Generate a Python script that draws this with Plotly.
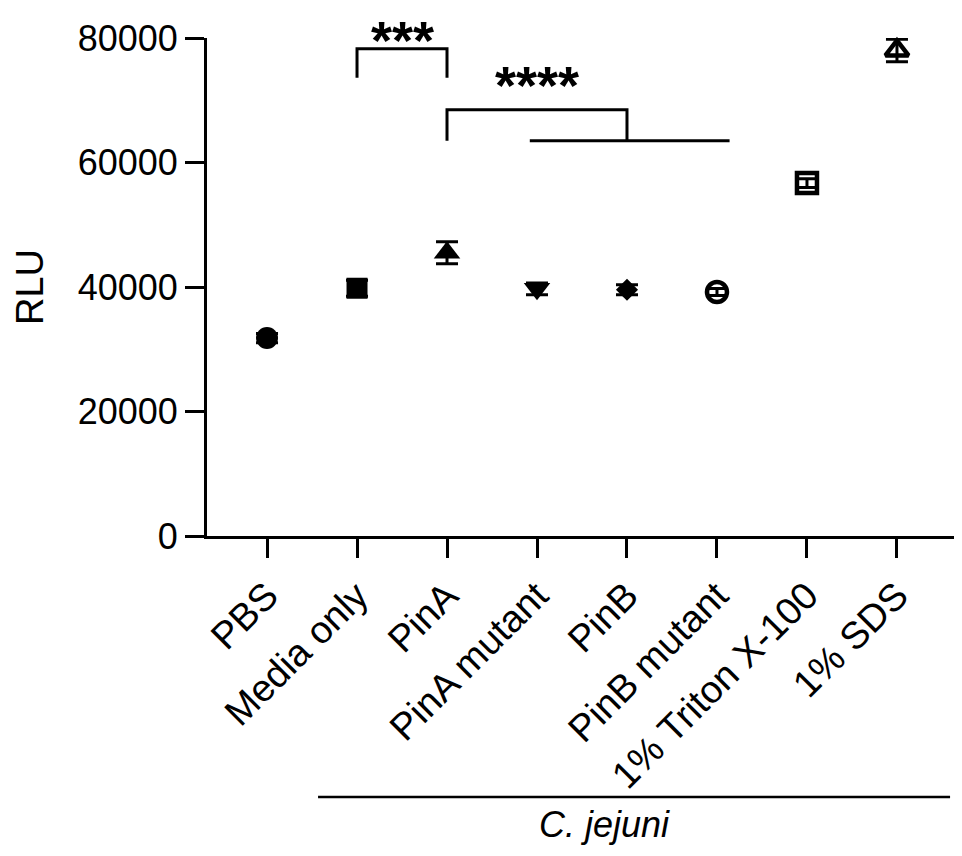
import plotly.graph_objects as go

categories = ["PBS", "Media only", "PinA", "PinA mutant", "PinB",
              "PinB mutant", "1% Triton X-100", "1% SDS"]
means = [31800, 39800, 45500, 39700, 39550, 39200, 56700, 78000]
sds = [750, 1300, 1750, 950, 800, 550, 700, 1800]
symbols = ["circle", "square", "triangle-up", "triangle-down", "diamond",
           "circle-open", "square-open", "triangle-up-open"]

y_ticks = [0, 20000, 40000, 60000, 80000]

# significance brackets (category index, RLU)
bracket1_x = [1, 1, 2, 2]
bracket1_y = [73600, 78280, 78280, 73600]
bracket2_x = [2, 2, 4, 4]
bracket2_y = [63500, 68480, 68480, 63500]
bracket2_base_x = [2.92, 5.14]
bracket2_base_y = [63500, 63500]
stars = ["***", "****"]
stars_x = [1.5, 3.0]

FONT = "Liberation Sans, Arial, sans-serif"

size_of = {"circle": 22, "square": 21, "triangle-up": 23, "triangle-down": 23,
           "diamond": 17, "circle-open": 20, "square-open": 20,
           "triangle-up-open": 20}
msize = [size_of[s] for s in symbols]
mlw = [4.5 if s.endswith("-open") else 0 for s in symbols]

fig = go.Figure()
fig.add_trace(go.Scatter(
    x=categories, y=means, mode="markers",
    marker=dict(symbol=symbols, size=msize, color="black", opacity=1,
                line=dict(color="black", width=mlw)),
    error_y=dict(type="data", array=sds, visible=True, color="black",
                 thickness=3, width=11),
    cliponaxis=False, showlegend=False,
))

line_style = dict(color="black", width=3)
fig.add_shape(type="path", xref="x", yref="y",
              path="M %s,%s L %s,%s L %s,%s L %s,%s" % tuple(
                  v for pair in zip(bracket1_x, bracket1_y) for v in pair),
              line=line_style)
fig.add_shape(type="path", xref="x", yref="y",
              path="M %s,%s L %s,%s L %s,%s L %s,%s" % tuple(
                  v for pair in zip(bracket2_x, bracket2_y) for v in pair),
              line=line_style)
fig.add_shape(type="line", xref="x", yref="y",
              x0=bracket2_base_x[0], x1=bracket2_base_x[1],
              y0=bracket2_base_y[0], y1=bracket2_base_y[1], line=line_style)

# stars
star_py = [1.0602, 0.969]
for t, sx, py in zip(stars, stars_x, star_py):
    fig.add_annotation(x=sx, y=py, xref="x", yref="paper", text="<b>%s</b>" % t,
                       showarrow=False, xanchor="center", yanchor="top",
                       font=dict(family=FONT, size=54, color="black"))

# C. jejuni grouping line
fig.add_shape(type="line", xref="x", yref="paper", x0=0.567, x1=7.59,
              y0=-0.524, y1=-0.524, line=dict(color="black", width=2.5))
fig.add_annotation(x=3.75, y=-0.5803, xref="x", yref="paper", text="<i>C. jejuni</i>",
                   showarrow=False, xanchor="center", yanchor="middle",
                   font=dict(family=FONT, size=36, color="black"))

# y-axis title
fig.add_annotation(x=0, y=0.5, xref="paper", yref="paper", text="RLU",
                   textangle=-90, showarrow=False, xanchor="center", yanchor="middle",
                   xshift=-177, font=dict(family=FONT, size=38, color="black"))

fig.update_layout(
    width=954, height=848,
    margin=dict(l=199, r=6, t=30, b=320),
    paper_bgcolor="white", plot_bgcolor="white",
    font=dict(family=FONT, size=36, color="black"),
    xaxis=dict(type="category", categoryorder="array", categoryarray=categories,
               range=[-0.667, 7.656], showline=True, linecolor="black", linewidth=3,
               ticks="outside", ticklen=19, tickwidth=3, tickcolor="black",
               tickangle=-45, showgrid=False, zeroline=False,
               tickfont=dict(family=FONT, size=38, color="black")),
    yaxis=dict(range=[0, 80000], tickvals=y_ticks, ticktext=[str(v) for v in y_ticks],
               showline=True, linecolor="black", linewidth=3,
               ticks="outside", ticklen=19, tickwidth=3, tickcolor="black",
               showgrid=False, zeroline=False,
               tickfont=dict(family=FONT, size=36, color="black")),
)

fig.write_html("out.html")
